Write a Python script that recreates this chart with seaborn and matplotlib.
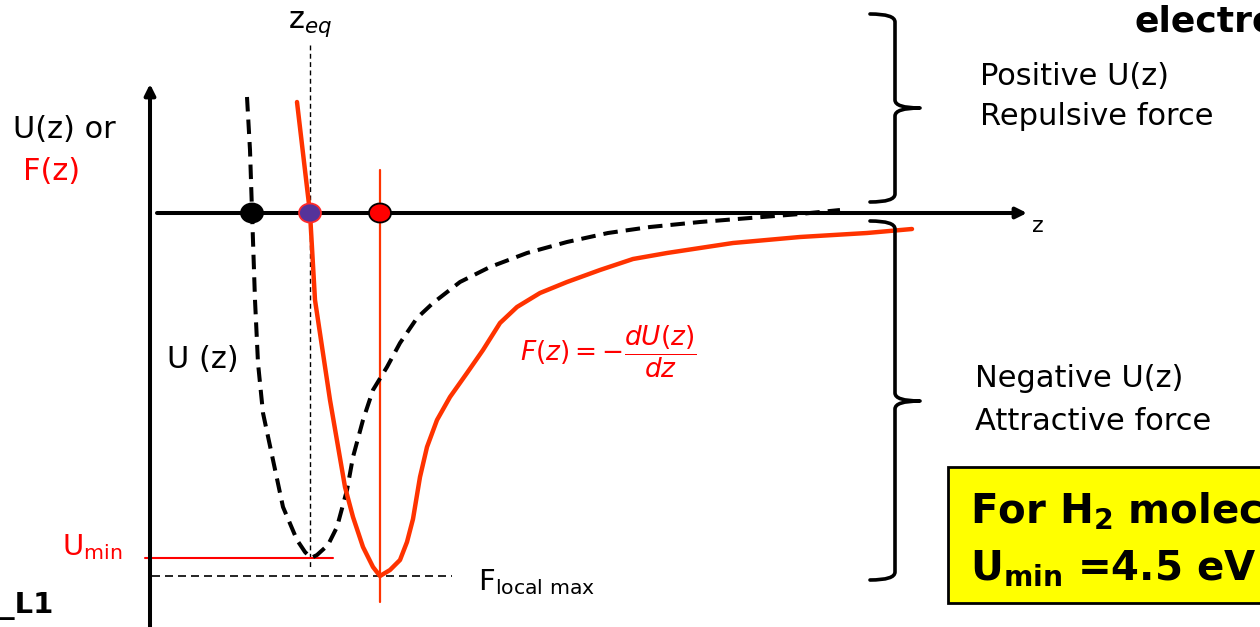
import matplotlib
matplotlib.use("Agg")
import matplotlib.pyplot as plt
import seaborn as sns
from matplotlib.patches import Ellipse, Rectangle, PathPatch
from matplotlib.path import Path

# ---- data (z along the bond axis, energy / force in arbitrary units) ----
# potential energy U(z), dashed curve
u_z = [0.97, 1.00, 1.02, 1.05, 1.08, 1.13, 1.23, 1.33, 1.47, 1.55, 1.61, 1.67,
       1.78, 1.87, 1.97, 2.03, 2.13, 2.23, 2.37, 2.50, 2.67, 2.83, 3.10, 3.40,
       3.77, 4.17, 4.58, 5.00, 5.50, 6.00, 6.50, 6.90]
u_val = [1.16, 0.63, 0.02, -0.87, -1.50, -2.00, -2.47, -2.94, -3.27, -3.39,
         -3.45, -3.42, -3.32, -3.14, -2.77, -2.44, -2.07, -1.77, -1.54, -1.30,
         -1.05, -0.90, -0.69, -0.54, -0.40, -0.29, -0.20, -0.14, -0.09, -0.05,
         -0.01, 0.03]

# force F(z) = -dU/dz, solid curve
f_z = [1.47, 1.60, 1.65, 1.80, 1.95, 2.03, 2.13, 2.23, 2.30, 2.40, 2.50, 2.57,
       2.63, 2.70, 2.77, 2.87, 3.00, 3.17, 3.33, 3.50, 3.67, 3.90, 4.17, 4.50,
       4.83, 5.17, 5.83, 6.50, 7.17, 7.62]
f_val = [1.11, 0.00, -0.87, -1.87, -2.74, -3.04, -3.34, -3.54, -3.63, -3.57,
         -3.47, -3.29, -3.06, -2.64, -2.34, -2.07, -1.84, -1.60, -1.37, -1.10,
         -0.94, -0.80, -0.69, -0.57, -0.46, -0.40, -0.30, -0.24, -0.20, -0.16]

# characteristic points
z_u_zero = 1.02     # U(z) = 0
z_eq = 1.60         # equilibrium separation, F(z) = 0
z_fmax = 2.30       # position of the force extremum
u_min = -3.45       # depth of the potential well
f_local = -3.63     # force extremum

marker_z = [z_u_zero, z_eq, z_fmax]
marker_fill = ["black", "#55339a", "#ff0000"]
marker_edge = ["black", "#ff2a2a", "black"]

# ---- figure ----
sns.set_theme(style="white")
plt.rcParams["font.family"] = ["DejaVu Sans"]
plt.rcParams["mathtext.fontset"] = "dejavusans"
plt.rcParams["text.color"] = "black"

fig, ax = plt.subplots(figsize=(12.6, 6.27), dpi=100)
ax.set_position([0, 0, 1, 1])
ax.set_xlim(-1.50, 11.10)
ax.set_ylim(-4.14, 2.13)
ax.axis("off")

RED = "#ff3300"

# axes with arrow heads
arrow = dict(arrowstyle="-|>", lw=2.9, color="black", shrinkA=0, shrinkB=0,
             mutation_scale=16)
ax.annotate("", xy=(0.0, 1.29), xytext=(0.0, -4.30), arrowprops=arrow)
ax.annotate("", xy=(8.77, 0.0), xytext=(0.07, 0.0), arrowprops=arrow)

# guide lines
ax.plot([z_eq, z_eq], [1.68, -3.54], color="black", lw=1.0,
        dashes=(3.5, 2.5), zorder=2)
ax.plot([0.02, 3.02], [f_local, f_local], color="black", lw=1.2,
        dashes=(4.8, 3.0), zorder=2)
ax.plot([-0.05, 1.83], [u_min, u_min], color="#ff0000", lw=1.5, zorder=2)
ax.plot([z_fmax, z_fmax], [0.43, -3.89], color=RED, lw=1.6, zorder=2)

# curves
sns.lineplot(x=u_z, y=u_val, sort=False, estimator=None, color="black",
             lw=2.9, ax=ax, zorder=3)
ax.lines[-1].set_dashes([3.6, 2.0])
sns.lineplot(x=f_z, y=f_val, sort=False, estimator=None, color=RED,
             lw=3.2, ax=ax, zorder=3)
ax.lines[-1].set_solid_joinstyle("round")

# points on the z axis
for zc, fc, ec in zip(marker_z, marker_fill, marker_edge):
    ax.add_patch(Ellipse((zc, 0.0), 0.22, 0.19, facecolor=fc, edgecolor=ec,
                         lw=1.3, zorder=5))


# curly braces
def brace(x_tip, x_spine, x_point, y_top, y_mid, y_bot, r=0.08):
    verts = [(x_tip, y_top), (x_spine, y_top), (x_spine, y_top - r),
             (x_spine, y_mid + r), (x_spine, y_mid), (x_point, y_mid),
             (x_spine, y_mid), (x_spine, y_mid - r),
             (x_spine, y_bot + r), (x_spine, y_bot), (x_tip, y_bot)]
    codes = [Path.MOVETO, Path.CURVE3, Path.CURVE3,
             Path.LINETO, Path.CURVE3, Path.CURVE3,
             Path.CURVE3, Path.CURVE3,
             Path.LINETO, Path.CURVE3, Path.CURVE3]
    ax.add_patch(PathPatch(Path(verts, codes), facecolor="none",
                           edgecolor="black", lw=2.6, capstyle="round",
                           joinstyle="round", zorder=4))


brace(7.20, 7.45, 7.70, 1.99, 1.05, 0.11)
brace(7.20, 7.45, 7.70, -0.08, -1.88, -3.67)

# labels
fs = 22
ax.text(-1.37, 0.75, "U(z) or", fontsize=fs, va="baseline")
ax.text(-1.27, 0.33, "F(z)", fontsize=fs, color="#ff0000", va="baseline")
ax.text(z_eq, 1.85, r"z$_{eq}$", fontsize=fs, ha="center", va="baseline")
ax.text(0.17, -1.55, "U (z)", fontsize=fs, va="baseline")
ax.text(-0.28, -3.42, r"U$_{\mathrm{min}}$", fontsize=21, color="#ff0000",
        ha="right", va="baseline")
ax.text(-1.50, -4.00, "_L1", fontsize=21, fontweight="bold", va="baseline")
ax.text(3.28, -3.77, r"F$_{\mathrm{local\ max}}$", fontsize=21,
        va="baseline")
ax.text(3.70, -1.39, r"$F(z) = -\dfrac{dU(z)}{dz}$", fontsize=19,
        color="#ff0000", va="center")
ax.text(8.82, -0.19, "z", fontsize=16, va="baseline")

ax.text(8.30, 1.28, "Positive U(z)", fontsize=fs, va="baseline")
ax.text(8.30, 0.88, "Repulsive force", fontsize=fs, va="baseline")
ax.text(8.25, -1.74, "Negative U(z)", fontsize=fs, va="baseline")
ax.text(8.25, -2.17, "Attractive force", fontsize=fs, va="baseline")
ax.text(9.85, 1.81, "electrons", fontsize=26, fontweight="bold",
        va="baseline")

# highlighted note
ax.add_patch(Rectangle((7.98, -3.90), 3.40, 1.36, facecolor="#ffff00",
                       edgecolor="black", lw=2.0, zorder=4))
ax.text(8.20, -3.10, r"For H$_{\mathbf{2}}$ molecule", fontsize=29,
        fontweight="bold", va="baseline", zorder=5)
ax.text(8.20, -3.67, r"U$_{\mathbf{min}}$ =4.5 eV", fontsize=29,
        fontweight="bold", va="baseline", zorder=5)

fig.savefig("out.png", dpi=100)
